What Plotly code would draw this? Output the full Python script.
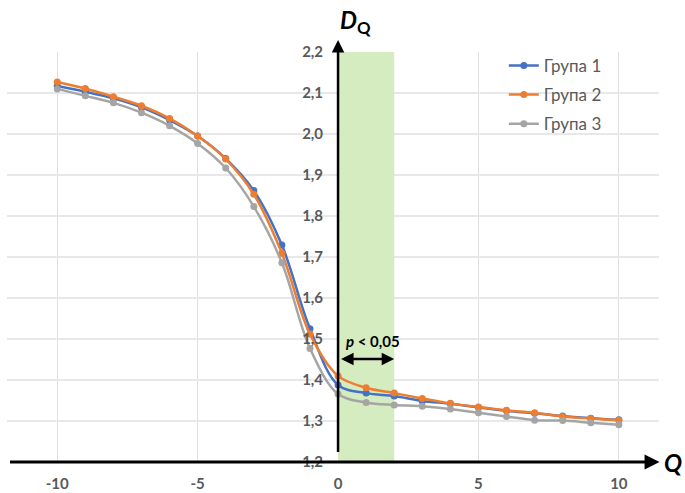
import plotly.graph_objects as go

q_values = [-10, -9, -8, -7, -6, -5, -4, -3, -2, -1, 0, 1, 2, 3, 4, 5, 6, 7, 8, 9, 10]
group1 = [2.117, 2.103, 2.087, 2.065, 2.034, 1.995, 1.940, 1.862, 1.729, 1.525, 1.388, 1.368, 1.361, 1.349, 1.342, 1.333, 1.325, 1.319, 1.312, 1.307, 1.303]
group2 = [2.127, 2.111, 2.091, 2.069, 2.038, 1.995, 1.939, 1.853, 1.709, 1.512, 1.410, 1.381, 1.368, 1.355, 1.343, 1.334, 1.326, 1.320, 1.311, 1.306, 1.302]
group3 = [2.110, 2.093, 2.076, 2.052, 2.020, 1.977, 1.917, 1.823, 1.686, 1.477, 1.366, 1.345, 1.339, 1.336, 1.329, 1.320, 1.311, 1.302, 1.301, 1.296, 1.291]
series_names = ["Група 1", "Група 2", "Група 3"]
colors = ["#4472C4", "#ED7D31", "#A5A5A5"]

x_tickvals = [-10, -5, 0, 5, 10]
x_ticktext = ["-10", "-5", "0", "5", "10"]
y_tickvals = [1.2, 1.3, 1.4, 1.5, 1.6, 1.7, 1.8, 1.9, 2.0, 2.1, 2.2]

x_range = [-11.79, 11.43]
y_range = [1.2, 2.2]
sig_band = [0, 2]

fig = go.Figure()
for i, (name, ys, c) in enumerate(zip(series_names, [group1, group2, group3], colors)):
    fig.add_trace(go.Scatter(
        x=q_values, y=ys, name=name, mode="lines+markers", legendgroup=f"g{i}",
        line=dict(color=c, width=2.5, shape="spline", smoothing=1),
        marker=dict(color=c, size=7),
    ))

# significance band
fig.add_shape(type="rect", xref="x", yref="y", x0=sig_band[0], x1=sig_band[1],
              y0=y_range[0], y1=y_range[1], fillcolor="#d5ebc0", line_width=0,
              layer="between")

font_family = "Lato, 'Open Sans', sans-serif"
tick_font = dict(family=font_family, size=15, color="#595959", weight="bold")

# axes arrows
fig.add_annotation(x=0, y=2.229, ax=0, ay=y_range[0], xref="x", yref="y",
                   axref="x", ayref="y", showarrow=True, arrowhead=2,
                   arrowsize=1, arrowwidth=2.5, arrowcolor="black", text=" ")
fig.add_annotation(x=11.45, y=y_range[0], ax=x_range[0], ay=y_range[0], xref="x", yref="y",
                   axref="x", ayref="y", showarrow=True, arrowhead=2,
                   arrowsize=1, arrowwidth=3, arrowcolor="black", text=" ")
# double arrow for p-band
fig.add_annotation(x=sig_band[1], y=1.451, ax=sig_band[0], ay=1.451, xref="x", yref="y",
                   axref="x", ayref="y", showarrow=True, arrowhead=2, startarrowhead=2,
                   arrowside="end+start", arrowsize=1, arrowwidth=2.5,
                   arrowcolor="black", text=" ")
fig.add_annotation(x=0.2, y=1.495, xref="x", yref="y", xanchor="left", yanchor="middle",
                   text="<b><i>p</i> &lt; 0,05</b>", showarrow=False,
                   font=dict(family=font_family, size=15, color="black"))
# axis titles
fig.add_annotation(x=1.0, y=0.0, xref="paper", yref="paper", xanchor="center", yanchor="middle",
                   text="<b><i>Q</i></b>", showarrow=False,
                   font=dict(family=font_family, size=24, color="black"), xshift=14)
fig.add_annotation(x=0, y=2.2, xref="x", yref="y", xanchor="left", yanchor="bottom",
                   text="<b><i>D</i><sub>Q</sub></b>", showarrow=False, xshift=0, yshift=12,
                   font=dict(family=font_family, size=24, color="black"))

fig.update_layout(
    width=685, height=493,
    margin=dict(l=7, r=26, t=52, b=31, autoexpand=False),
    paper_bgcolor="white", plot_bgcolor="white",
    separators=", ",
    showlegend=True,
    legend=dict(x=0.762, y=1.01, xanchor="left", yanchor="top",
                font=dict(family=font_family, size=17, color="#595959"),
                traceorder="grouped", tracegroupgap=4,
                bgcolor="rgba(0,0,0,0)"),
    xaxis=dict(range=x_range, tickvals=x_tickvals, ticktext=x_ticktext,
               showgrid=True, gridcolor="#e0e0e0", gridwidth=1, zeroline=False,
               showline=False, ticks="outside", ticklen=8, tickcolor="rgba(0,0,0,0)",
               tickfont=tick_font, domain=[0, 1], automargin=False),
    yaxis=dict(range=y_range, tickvals=y_tickvals, tickformat=".1f",
               showgrid=True, gridcolor="#e8e8e8", gridwidth=1.5, zeroline=False,
               showline=False, anchor="free", automargin=False,
               position=(0 - x_range[0]) / (x_range[1] - x_range[0]),
               ticks="outside", ticklen=12, tickcolor="rgba(0,0,0,0)",
               tickfont=tick_font),
)

fig.write_html("out.html", config={"displayModeBar": False},
               post_script="document.body.style.margin='0px';")
